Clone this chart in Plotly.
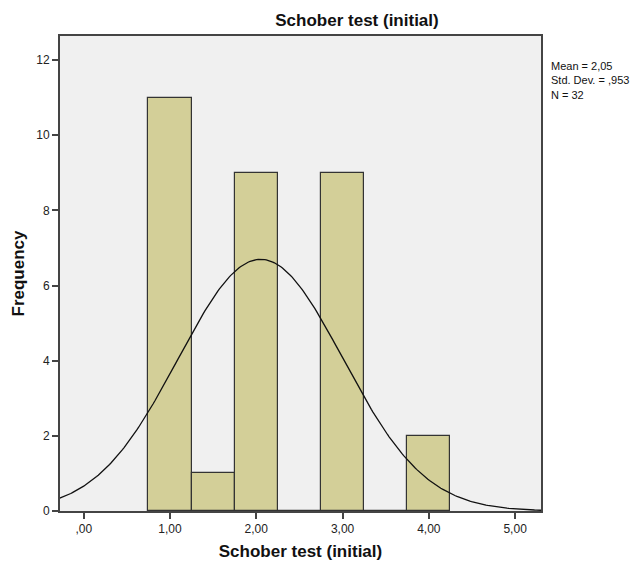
import numpy as np
import plotly.graph_objects as go

bin_centers = [1.0, 1.5, 2.0, 2.5, 3.0, 3.5, 4.0]
counts = [11, 1, 9, 0, 9, 0, 2]
bin_width = 0.5
mean_val = 2.05
sd_val = 0.953
n_val = 32
x_ticks = [0, 1, 2, 3, 4, 5]
x_tick_labels = [",00", "1,00", "2,00", "3,00", "4,00", "5,00"]
y_ticks = [0, 2, 4, 6, 8, 10, 12]

fig = go.Figure()
fig.add_trace(go.Bar(
    x=bin_centers, y=counts, width=bin_width,
    marker=dict(color="#D3CF98", line=dict(color="#333333", width=1.2)),
    hoverinfo="skip", showlegend=False,
))

xs = np.linspace(-0.3, 5.3, 300)
ys = n_val * bin_width / (sd_val * np.sqrt(2 * np.pi)) * np.exp(-0.5 * ((xs - mean_val) / sd_val) ** 2)
fig.add_trace(go.Scatter(x=xs, y=ys, mode="lines", line=dict(color="#111111", width=1.3),
                         showlegend=False, hoverinfo="skip"))

font = "Liberation Sans, Arial, sans-serif"
fig.update_layout(
    width=641, height=562,
    margin=dict(l=60, r=100, t=36, b=51, autoexpand=False),
    paper_bgcolor="white", plot_bgcolor="#F0F0F0",
    font=dict(family=font, size=12, color="#222222"),
    bargap=0,
    title=dict(text="<b>Schober test (initial)</b>", x=357/641, xanchor="center",
               y=1 - 20/562, yanchor="middle", font=dict(size=17, family=font, color="#111111")),
    xaxis=dict(range=[-0.275, 5.3], tickvals=x_ticks, ticktext=x_tick_labels, automargin=False,
               showgrid=False, zeroline=False, showline=True, linecolor="#444444", linewidth=2,
               mirror=True, ticks="outside", ticklen=6, tickcolor="#444444", tickwidth=2,
               tickfont=dict(size=12, family=font, color="#222222"),
               title=dict(text="<b>Schober test (initial)</b>", font=dict(size=17, family=font, color="#111111"),
                          standoff=10)),
    yaxis=dict(range=[0, 12.64], tickvals=y_ticks, automargin=False,
               showgrid=False, zeroline=False, showline=True, linecolor="#444444", linewidth=2,
               mirror=True, ticks="outside", ticklen=6, tickcolor="#444444", tickwidth=2,
               tickfont=dict(size=12, family=font, color="#222222"),
               title=dict(text="<b>Frequency</b>", font=dict(size=17, family=font, color="#111111"),
                          standoff=7)),
)

fig.add_annotation(
    text="Mean = 2,05<br>Std. Dev. = ,953<br>N = 32",
    xref="paper", yref="paper", x=(549-60)/481, y=1 - (58-36)/475,
    xanchor="left", yanchor="top", align="left", showarrow=False,
    font=dict(size=11, family=font, color="#111111"),
)

fig.write_html("out.html")
